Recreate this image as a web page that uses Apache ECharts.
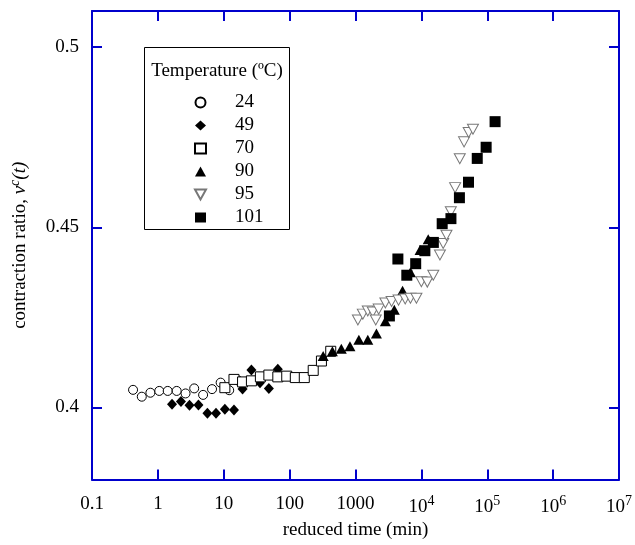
<!DOCTYPE html>
<html>
<head>
<meta charset="utf-8">
<script src="https://cdn.jsdelivr.net/npm/echarts@6/dist/echarts.min.js"></script>
<style>
    html, body { margin: 0; padding: 0; background: #fff; }
    #main { width: 635px; height: 545px; }
</style>
</head>
<body>
<div id="main"></div>
<script>
    // temperature groups (legend)
    var temps = ['24', '49', '70', '90', '95', '101'];

    // reduced time (min) / contraction ratio per temperature
    var t24x = [0.42, 0.57, 0.77, 1.05, 1.41, 1.93, 2.63, 3.56, 4.86, 6.64, 8.97, 12.1, 16.5];
    var t24y = [0.4049, 0.4030, 0.4041, 0.4046, 0.4046, 0.4046, 0.4039, 0.4053, 0.4035, 0.4051, 0.4069, 0.4048, 0.4075];

    var t49x = [1.64, 2.24, 3.02, 4.13, 5.65, 7.63, 10.4, 14.3, 19.3, 26.3, 35.5, 48.4, 66.2];
    var t49y = [0.4009, 0.4017, 0.4006, 0.4007, 0.3984, 0.3984, 0.3995, 0.3993, 0.4051, 0.4104, 0.4069, 0.4053, 0.4106];

    var t70x = [10.4, 14.3, 19.3, 26.3, 36.0, 48.4, 66.2, 90.4, 122, 167, 228, 304, 421];
    var t70y = [0.4055, 0.4078, 0.4071, 0.4074, 0.4085, 0.4090, 0.4085, 0.4087, 0.4083, 0.4083, 0.4103, 0.4129, 0.4156];

    var t90x = [323, 446, 609, 824, 1125, 1537, 2078, 2840, 3880, 5180, 6820, 9550, 12700];
    var t90y = [0.4143, 0.4156, 0.4163, 0.4170, 0.4188, 0.4188, 0.4205, 0.4239, 0.4271, 0.4324, 0.4375, 0.4437, 0.4467];

    var t95x = [1087, 1292, 1537, 1828, 2029, 2250, 2840, 3532, 4506, 5680, 6826, 8410, 10000, 12300,
        15170, 19130, 21430, 24040, 28000, 32500, 38280, 44460, 52250, 60700];
    var t95y = [0.4243, 0.4259, 0.4268, 0.4265, 0.4243, 0.4273, 0.4290, 0.4294, 0.4298, 0.4301, 0.4303, 0.4303, 0.4349, 0.4348,
        0.4367, 0.4423, 0.4455, 0.4478, 0.4543, 0.4610, 0.4690, 0.4737, 0.4763, 0.4772];

    var t101x = [3270, 4400, 6010, 8200, 11300, 15200, 20700, 28100, 37800, 51900, 70500, 96200, 131500];
    var t101y = [0.4254, 0.4412, 0.4367, 0.4399, 0.4435, 0.4458, 0.4510, 0.4524, 0.4582, 0.4625, 0.4691, 0.4722, 0.4793];

    // tick labels
    var xTicks = [0.1, 1, 10, 100, 1000, 1e4, 1e5, 1e6, 1e7];
    var yTicks = [0.4, 0.45, 0.5];

    var FONT = 'Liberation Serif';
    var BLUE = '#0000cc';
    var DOWN_TRI = 'path://M0,0 L10,0 L5,9 Z';

    function pairs(xs, ys) {
        return xs.map(function (x, i) { return [x, ys[i]]; });
    }

    // x label: plain below 1e4, power of ten above
    function xLabel(v) {
        var e = Math.round(Math.log10(v));
        if (e < 0) return '0.1';
        if (e < 4) return String(Math.pow(10, e));
        return '10{sup|' + e + '}';
    }

    var styles = [
        { symbol: 'circle', size: 9, item: { color: '#fff', borderColor: '#000', borderWidth: 1, opacity: 1 } },
        { symbol: 'diamond', size: [10, 11], item: { color: '#000', opacity: 1 } },
        { symbol: 'rect', size: 10, item: { color: '#fff', borderColor: '#000', borderWidth: 1, opacity: 1 } },
        { symbol: 'triangle', size: [11, 10], item: { color: '#000', opacity: 1 } },
        { symbol: DOWN_TRI, size: [11, 10], item: { color: '#fff', borderColor: '#777', borderWidth: 1, opacity: 1 } },
        { symbol: 'rect', size: 11, item: { color: '#000', opacity: 1 } }
    ];
    var sets = [pairs(t24x, t24y), pairs(t49x, t49y), pairs(t70x, t70y),
        pairs(t90x, t90y), pairs(t95x, t95y), pairs(t101x, t101y)];

    var series = temps.map(function (t, i) {
        return {
            type: 'scatter',
            name: t,
            data: sets[i],
            symbol: styles[i].symbol,
            symbolSize: styles[i].size,
            itemStyle: styles[i].item,
            emphasis: { disabled: true }
        };
    });

    var logAxis = {
        type: 'log',
        logBase: 10,
        min: 0.1,
        max: 1e7,
        splitNumber: 10,
        axisLine: { lineStyle: { color: BLUE, width: 2 } },
        axisTick: { inside: true, length: 10, lineStyle: { color: BLUE, width: 2 }, customValues: xTicks },
        splitLine: { show: false }
    };

    var valAxis = {
        type: 'value',
        min: 0.38,
        max: 0.51,
        axisLine: { show: true, lineStyle: { color: BLUE, width: 2 } },
        axisTick: { show: true, inside: true, length: 10, lineStyle: { color: BLUE, width: 2 }, customValues: yTicks },
        splitLine: { show: false }
    };

    var chart = echarts.init(document.getElementById('main'));
    chart.setOption({
        animation: false,
        backgroundColor: '#fff',
        textStyle: { fontFamily: FONT },
        grid: { left: 91, right: 13, top: 11, bottom: 63 },
        xAxis: [
            Object.assign({}, logAxis, {
                position: 'bottom',
                name: 'reduced time (min)',
                nameLocation: 'middle',
                nameGap: 41,
                nameTextStyle: { color: '#000', fontSize: 19, fontFamily: FONT },
                axisLabel: {
                    customValues: xTicks,
                    margin: 15,
                    color: '#000',
                    fontSize: 19,
                    fontFamily: FONT,
                    formatter: xLabel,
                    rich: { sup: { fontSize: 14, verticalAlign: 'bottom', padding: [0, 0, 10, 0], color: '#000', fontFamily: FONT } }
                }
            }),
            Object.assign({}, logAxis, { position: 'top', axisLabel: { show: false } })
        ],
        yAxis: [
            Object.assign({}, valAxis, {
                position: 'left',
                name: 'contraction ratio, {i|ν}{sup|c}{i|(t)}',
                nameLocation: 'middle',
                nameGap: 60,
                nameTextStyle: {
                    color: '#000', fontSize: 19, fontFamily: FONT,
                    rich: {
                        i: { fontStyle: 'italic', fontSize: 19, fontFamily: FONT, color: '#000' },
                        sup: { fontStyle: 'italic', fontSize: 14, fontFamily: FONT, color: '#000', verticalAlign: 'bottom', padding: [0, 0, 10, 0] }
                    }
                },
                axisLabel: {
                    customValues: yTicks,
                    margin: 13,
                    color: '#000',
                    fontSize: 19,
                    fontFamily: FONT,
                    formatter: function (v) { return String(Math.round(v * 100) / 100); }
                }
            }),
            Object.assign({}, valAxis, { position: 'right', axisLabel: { show: false } })
        ],
        legend: {
            orient: 'vertical',
            left: 189,
            top: 88,
            itemWidth: 11,
            itemHeight: 10,
            itemGap: 4,
            selectedMode: false,
            data: temps,
            textStyle: { color: '#000', fontSize: 19, lineHeight: 19, fontFamily: FONT, padding: [0, 0, 0, 24] }
        },
        graphic: [
            {
                type: 'rect',
                shape: { x: 144.5, y: 47.5, width: 145, height: 182 },
                style: { fill: 'none', stroke: '#000', lineWidth: 1 },
                z: 5
            },
            {
                type: 'text',
                x: 217,
                y: 71,
                style: { text: 'Temperature (ºC)', fill: '#000', font: '19px "Liberation Serif"', align: 'center', verticalAlign: 'middle' },
                z: 5
            }
        ],
        series: series
    });
</script>
</body>
</html>
